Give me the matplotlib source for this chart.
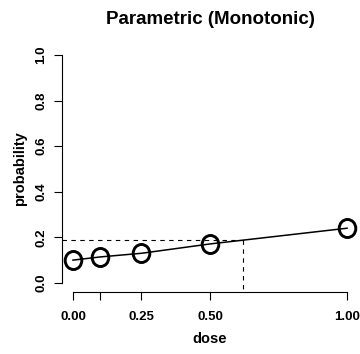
import numpy as np
import matplotlib
matplotlib.use("Agg")
import matplotlib.pyplot as plt
from matplotlib.path import Path
from matplotlib.transforms import Affine2D

# data
doses = [0.0, 0.1, 0.25, 0.5, 1.0]
probs = [0.100, 0.114, 0.130, 0.171, 0.240]
target_dose = 0.62
target_prob = 0.189
xtick_vals = [0.0, 0.1, 0.25, 0.5, 1.0]
xtick_labels = ["0.00", "", "0.25", "0.50", "1.00"]
ytick_vals = [0.0, 0.2, 0.4, 0.6, 0.8, 1.0]
ytick_labels = ["0.0", "0.2", "0.4", "0.6", "0.8", "1.0"]

plt.rcParams['font.family'] = ['Liberation Sans', 'DejaVu Sans']

W, H = 360, 354
fig = plt.figure(figsize=(W / 100, H / 100), dpi=100)
ax = fig.add_axes([62 / W, (H - 292) / H, 296 / W, 246 / H])
ax.set_xlim(-0.04, 1.04)
ax.set_ylim(-0.04, 1.04)

# O-shaped marker (slightly taller than wide)
circ = Path.unit_circle()
oval = Path(Affine2D().scale(0.92, 1.0).transform(circ.vertices), circ.codes)

ax.plot(doses, probs, color='black', lw=1.1, zorder=3)
ax.plot(doses, probs, linestyle='none', marker=oval, ms=13, mfc='none',
        mec='black', mew=2.1, zorder=4)

# dashed guide lines to the axes edges
ax.plot([-0.04, target_dose], [target_prob, target_prob], color='black',
        lw=0.8, linestyle=(0, (4, 4)), clip_on=True)
ax.plot([target_dose, target_dose], [target_prob, -0.04], color='black',
        lw=0.8, linestyle=(0, (4, 4)), clip_on=True)

for s in ['top', 'right']:
    ax.spines[s].set_visible(False)
ax.spines['left'].set_bounds(0, 1)
ax.spines['bottom'].set_bounds(0, 1)
for s in ['left', 'bottom']:
    ax.spines[s].set_linewidth(0.8)

ax.set_xticks(xtick_vals)
ax.set_xticklabels(xtick_labels, fontsize=9.5, fontweight='bold')
ax.set_yticks(ytick_vals)
ax.set_yticklabels(ytick_labels, fontsize=9.5, fontweight='bold',
                   rotation=90, va='center')
ax.tick_params(axis='both', length=5.5, width=0.8, direction='out')
ax.tick_params(axis='x', pad=8)
ax.tick_params(axis='y', pad=5)

ax.set_xlabel('dose', fontsize=10.5, fontweight='bold', labelpad=7)
ax.set_ylabel('probability', fontsize=10.5, fontweight='bold', labelpad=6)
fig.text(210 / W, 1 - 20 / H, 'Parametric (Monotonic)', fontsize=13.5,
         fontweight='bold', ha='center', va='center')

fig.savefig('out.png', dpi=100)
